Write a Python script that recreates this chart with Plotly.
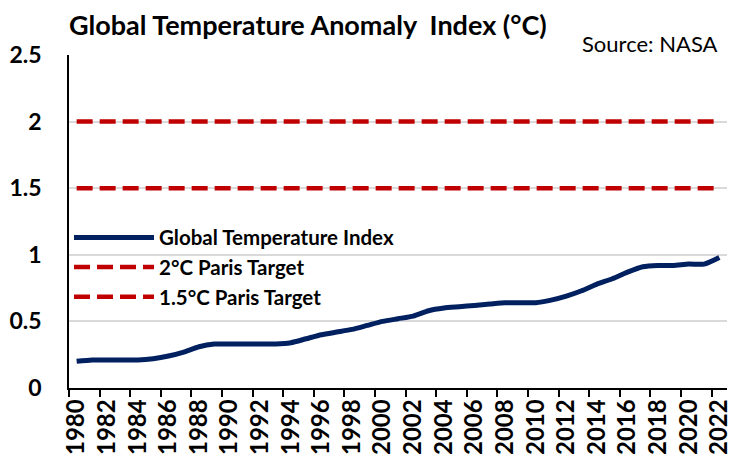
import plotly.graph_objects as go

# Global temperature anomaly index (°C), smoothed series, 1980-2022
years = list(range(1980, 2023))
anomaly = [0.20, 0.21, 0.21, 0.21, 0.21, 0.22, 0.24, 0.27, 0.31, 0.33,
           0.33, 0.33, 0.33, 0.33, 0.34, 0.37, 0.40, 0.42, 0.44, 0.47,
           0.50, 0.52, 0.54, 0.58, 0.60, 0.61, 0.62, 0.63, 0.64, 0.64,
           0.64, 0.66, 0.69, 0.73, 0.78, 0.82, 0.87, 0.91, 0.92, 0.92,
           0.93, 0.93, 0.98]
target_2c = [2.0] * len(years)
target_15c = [1.5] * len(years)

year_ticks = list(range(1980, 2023, 2))
y_ticks = [0, 0.5, 1, 1.5, 2, 2.5]
y_tick_text = ["0", "0.5", "1", "1.5", "2", "2.5"]

NAVY = "#002060"
RED = "#C00000"
FONT = "Lato"

fig = go.Figure()
fig.add_trace(go.Scatter(
    x=years, y=anomaly, mode="lines", name="Global Temperature Index",
    line=dict(color=NAVY, width=5, shape="spline", smoothing=0.6),
))
fig.add_trace(go.Scatter(
    x=years, y=target_2c, mode="lines", name="2°C Paris Target",
    line=dict(color=RED, width=4.5, dash="16px,7px"),
))
fig.add_trace(go.Scatter(
    x=years, y=target_15c, mode="lines", name="1.5°C Paris Target",
    line=dict(color=RED, width=4.5, dash="16px,7px"),
))

fig.update_layout(
    width=732, height=459,
    margin=dict(l=69, r=0, t=55, b=71),
    paper_bgcolor="white", plot_bgcolor="white",
    font=dict(family=FONT, color="black"),
    showlegend=True,
    legend=dict(
        x=0.0, y=0.363, xanchor="left", yanchor="middle",
        bgcolor="rgba(0,0,0,0)",
        font=dict(family=FONT, size=20.5, color="black", weight="bold"),
        itemwidth=80, tracegroupgap=0,
    ),
    xaxis=dict(
        range=[1979.5, 2022.5],
        tickmode="array", tickvals=year_ticks,
        ticktext=[str(y) for y in year_ticks],
        tickangle=-90, ticks="", ticklabeloverflow="allow",
        tickfont=dict(family=FONT, size=24, color="black", weight="bold"),
        showline=True, linecolor="black", linewidth=1.5,
        showgrid=False, zeroline=False,
        minor=dict(tick0=1979.5, dtick=2, ticks="outside", ticklen=7,
                   tickcolor="black", tickwidth=1.5, showgrid=False),
    ),
    yaxis=dict(
        range=[0, 2.5],
        tickmode="array", tickvals=y_ticks, ticktext=y_tick_text,
        tickfont=dict(family=FONT, size=23, color="black", weight="bold"),
        showline=True, linecolor="black", linewidth=1.5,
        showgrid=True, gridcolor="#D9D9D9", gridwidth=1.5,
        zeroline=False, ticks="", ticklabelstandoff=21,
    ),
    annotations=[
        dict(text="Global Temperature Anomaly  Index (°C)",
             xref="paper", yref="paper", x=-0.003, y=1.093,
             xanchor="left", yanchor="middle", showarrow=False,
             font=dict(family=FONT, size=27, color="black", weight="bold")),
        dict(text="Source: NASA",
             xref="paper", yref="paper", x=0.99, y=1.036,
             xanchor="right", yanchor="middle", showarrow=False,
             font=dict(family=FONT, size=22, color="black")),
    ],
)

fig.write_html("out.html")
